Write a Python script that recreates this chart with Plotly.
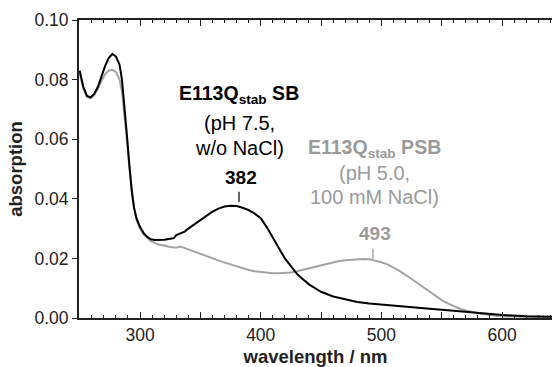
import plotly.graph_objects as go

# ---- data ----
wl_sb = [250, 253, 256, 259, 262, 265, 268, 271, 274, 277, 280, 283, 285, 287, 289, 291, 293, 295, 297,
         300, 303, 306, 309, 312, 316, 320, 325, 328, 330, 333, 337, 340, 345, 350, 355, 360, 365, 370,
         375, 380, 385, 390, 395, 400, 405, 410, 415, 420, 425, 430, 435, 440, 445, 450, 460, 470, 480,
         490, 500, 520, 540, 560, 580, 600, 620, 642]
abs_sb = [0.0830, 0.0775, 0.0745, 0.0740, 0.0752, 0.0775, 0.0810, 0.0845, 0.0872, 0.0886, 0.0878, 0.0850,
          0.0800, 0.0720, 0.0620, 0.0520, 0.0430, 0.0370, 0.0335, 0.0305, 0.0285, 0.0272, 0.0264, 0.0262,
          0.0262, 0.0263, 0.0266, 0.0268, 0.0278, 0.0284, 0.0290, 0.0300, 0.0315, 0.0330, 0.0345, 0.0357,
          0.0367, 0.0374, 0.0377, 0.0376, 0.0370, 0.0362, 0.0350, 0.0335, 0.0305, 0.0268, 0.0235, 0.0200,
          0.0173, 0.0148, 0.0130, 0.0113, 0.0100, 0.0088, 0.0072, 0.0062, 0.0054, 0.0049, 0.0045, 0.0038,
          0.0031, 0.0024, 0.0017, 0.0010, 0.0006, 0.0004]

wl_psb = [250, 253, 256, 259, 262, 265, 268, 271, 274, 277, 280, 283, 285, 287, 289, 291, 293, 295, 297,
          300, 303, 306, 309, 312, 316, 320, 325, 330, 333, 336, 340, 345, 350, 355, 360, 365, 370, 375,
          380, 385, 390, 395, 400, 405, 410, 415, 420, 425, 430, 435, 440, 445, 450, 455, 460, 465, 470,
          475, 480, 485, 490, 495, 500, 505, 510, 515, 520, 525, 530, 535, 540, 545, 550, 555, 560, 565,
          570, 575, 580, 590, 600, 620, 642]
abs_psb = [0.0820, 0.0770, 0.0742, 0.0738, 0.0748, 0.0768, 0.0795, 0.0818, 0.0830, 0.0833, 0.0826, 0.0800,
           0.0760, 0.0690, 0.0600, 0.0510, 0.0430, 0.0370, 0.0330, 0.0300, 0.0280, 0.0268, 0.0258, 0.0252,
           0.0246, 0.0243, 0.0238, 0.0236, 0.0240, 0.0236, 0.0230, 0.0222, 0.0214, 0.0206, 0.0200, 0.0193,
           0.0186, 0.0180, 0.0173, 0.0166, 0.0161, 0.0157, 0.0154, 0.0151, 0.0150, 0.0150, 0.0151, 0.0153,
           0.0157, 0.0162, 0.0168, 0.0173, 0.0178, 0.0183, 0.0187, 0.0191, 0.0194, 0.0196, 0.0198, 0.0198,
           0.0197, 0.0193, 0.0187, 0.0180, 0.0170, 0.0158, 0.0145, 0.0131, 0.0116, 0.0101, 0.0087, 0.0073,
           0.0060, 0.0049, 0.0039, 0.0031, 0.0025, 0.0020, 0.0016, 0.0010, 0.0006, 0.0004, 0.0003]

peak_sb = 382
peak_psb = 493
x_tickvals = [250, 300, 350, 400, 450, 500, 550, 600, 650]
x_ticktext = ["", "300", "", "400", "", "500", "", "600", ""]
y_tickvals = [0.00, 0.02, 0.04, 0.06, 0.08, 0.10]
y_ticktext = ["0.00", "0.02", "0.04", "0.06", "0.08", "0.10"]

BLACK = "#000000"
GREY = "#a3a3a3"
GREY_TXT = "#9a9a9a"
FONT = "Liberation Sans, Arial, sans-serif"

fig = go.Figure()
fig.add_trace(go.Scatter(x=wl_psb, y=abs_psb, mode="lines", line=dict(color=GREY, width=2), hoverinfo="skip"))
fig.add_trace(go.Scatter(x=wl_sb, y=abs_sb, mode="lines", line=dict(color=BLACK, width=2), hoverinfo="skip"))

# peak marker ticks
fig.add_shape(type="line", x0=peak_sb, x1=peak_sb, y0=0.0389, y1=0.0424, line=dict(color="#333333", width=1.5))
fig.add_shape(type="line", x0=peak_psb, x1=peak_psb, y0=0.0199, y1=0.0232, line=dict(color=GREY, width=1.5))

def ann(x, y, text, color, size=20):
    fig.add_annotation(x=x, y=y, xref="x", yref="y", text=text, showarrow=False,
                       font=dict(family=FONT, size=size, color=color), xanchor="center", yanchor="middle")

ann(382, 0.0750, "<b>E113Q<sub>stab</sub> SB</b>", BLACK, 19.5)
ann(382, 0.0655, "(pH 7.5,", BLACK)
ann(382, 0.0572, "w/o NaCl)", BLACK)
ann(384, 0.0473, "<b>" + str(peak_sb) + "</b>", BLACK, 19)

ann(494, 0.0568, "<b>E113Q<sub>stab</sub> PSB</b>", GREY_TXT, 19.5)
ann(494, 0.0488, "(pH 5.0,", GREY_TXT)
ann(494, 0.0405, "100 mM NaCl)", GREY_TXT)
ann(495, 0.0285, "<b>" + str(peak_psb) + "</b>", GREY_TXT, 19)

fig.update_layout(
    width=552, height=367,
    margin=dict(l=79, r=0, t=20, b=49),
    plot_bgcolor="white", paper_bgcolor="white",
    showlegend=False,
    font=dict(family=FONT, size=17.5, color="#222222"),
)
fig.update_xaxes(
    range=[249.4, 641.4], tickmode="array", tickvals=x_tickvals, ticktext=x_ticktext,
    ticks="inside", ticklen=6, tickwidth=1.3, tickcolor="#222222",
    showline=True, linecolor="#222222", linewidth=2, mirror="ticks",
    showgrid=False, zeroline=False,
    minor=dict(dtick=10, tick0=0, ticks="inside", ticklen=3, tickwidth=1.2, tickcolor="#222222", showgrid=False),
    title=dict(text="<b>wavelength / nm</b>", font=dict(size=18.5, color="#222222"), standoff=6),
)
fig.update_yaxes(
    range=[0, 0.1], tickmode="array", tickvals=y_tickvals, ticktext=y_ticktext,
    ticks="outside", ticklen=5, tickwidth=1.3, tickcolor="#222222",
    showline=True, linecolor="#222222", linewidth=2, mirror=False,
    showgrid=False, zeroline=False,
    title=dict(text="<b>absorption</b>", font=dict(size=18.5, color="#222222"), standoff=7),
)

fig.write_html("out.html")
